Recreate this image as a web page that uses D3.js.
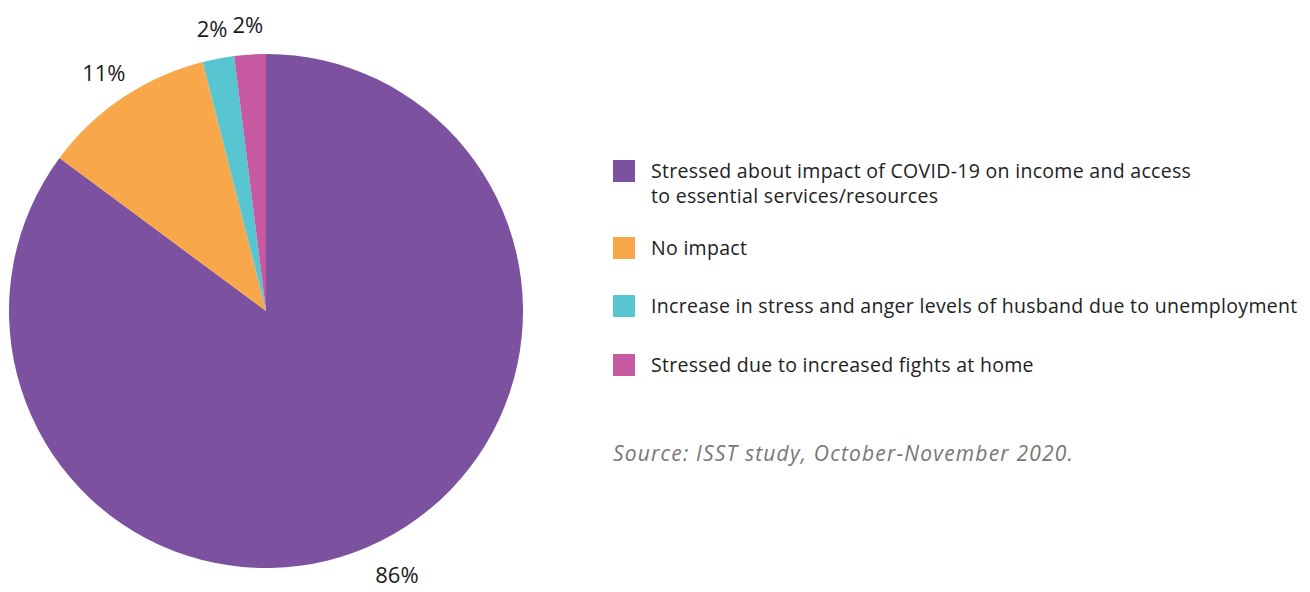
<!DOCTYPE html>
<html>
<head>
<meta charset="utf-8">
<script src="https://cdn.jsdelivr.net/npm/d3@7"></script>
<style>
  body { margin: 0; background: #fff; }
  svg { display: block; }
</style>
</head>
<body>
<script>
var width = 1310,
    height = 592;

// data
var categories = [
  "Stressed about impact of COVID-19 on income and access|to essential services/resources",
  "No impact",
  "Increase in stress and anger levels of husband due to unemployment",
  "Stressed due to increased fights at home"
];
var values = [86, 11, 2, 2];
var colors = ["#7b51a0", "#f9a74b", "#57c6d0", "#c659a0"];
var source = "Source: ISST study, October-November 2020.";

var data = categories.map(function(c, i) {
  return {name: c, value: values[i], color: colors[i]};
});

var cx = 266, cy = 311, radius = 257, labelRadius = 291;

var svg = d3.select("body").append("svg")
    .attr("width", width)
    .attr("height", height);

var pie = d3.pie()
    .sort(null)
    .value(function(d) { return d.value; });

var arc = d3.arc().innerRadius(0).outerRadius(radius);
var labelArc = d3.arc().innerRadius(labelRadius).outerRadius(labelRadius);

var g = svg.append("g")
    .attr("transform", "translate(" + cx + "," + cy + ")");

var arcs = pie(data);

g.selectAll("path")
    .data(arcs)
  .enter().append("path")
    .attr("d", arc)
    .attr("fill", function(d) { return d.data.color; });

// percentage labels outside the pie
g.selectAll("text.lbl")
    .data(arcs)
  .enter().append("text")
    .attr("class", "lbl")
    .attr("transform", function(d) { return "translate(" + labelArc.centroid(d) + ")"; })
    .attr("text-anchor", "middle")
    .attr("dy", "0.55em")
    .style("font-family", "'Open Sans', sans-serif")
    .style("font-size", "22px")
    .style("fill", "#1a1a1a")
    .text(function(d) { return d.data.value + "%"; });

// legend
var legendRows = [171, 248, 306, 365];

var legend = svg.append("g");

var item = legend.selectAll("g")
    .data(data)
  .enter().append("g")
    .attr("transform", function(d, i) { return "translate(613," + legendRows[i] + ")"; });

item.append("rect")
    .attr("x", 0)
    .attr("y", -11)
    .attr("width", 22)
    .attr("height", 22)
    .attr("fill", function(d) { return d.color; });

item.append("text")
    .attr("x", 38)
    .style("font-family", "'Open Sans', sans-serif")
    .style("font-size", "19.5px")
    .style("letter-spacing", "0.3px")
    .style("fill", "#222")
    .each(function(d) {
      var t = d3.select(this);
      d.name.split("|").forEach(function(line, k) {
        t.append("tspan")
          .attr("x", 38)
          .attr("y", k * 25)
          .attr("dy", "0.35em")
          .text(line);
      });
    });

svg.append("text")
    .attr("x", 613)
    .attr("y", 454)
    .attr("dy", "0.35em")
    .style("font-family", "'Open Sans', sans-serif")
    .style("font-size", "21px")
    .style("letter-spacing", "1.2px")
    .style("font-style", "italic")
    .style("fill", "#777")
    .text(source);
</script>
</body>
</html>
